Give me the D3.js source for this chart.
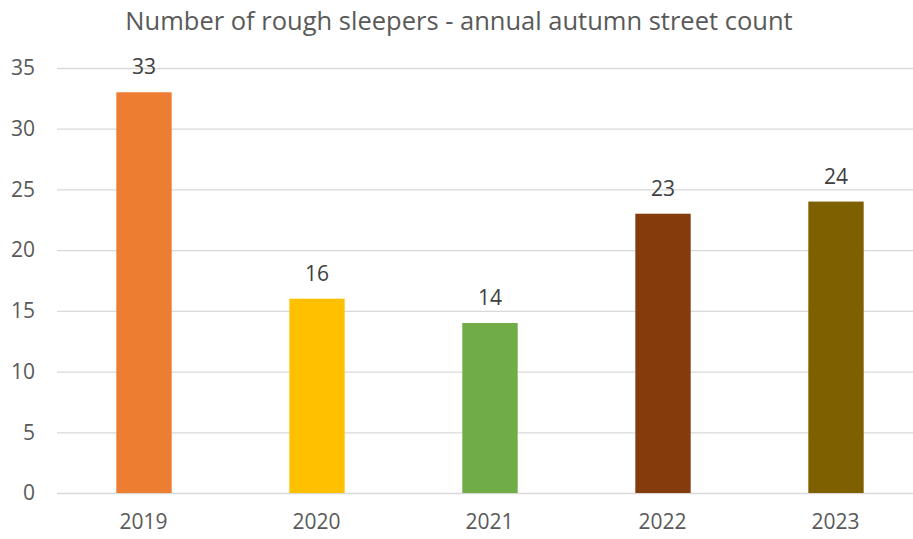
<!DOCTYPE html>
<html>
<head>
<meta charset="utf-8">
<script src="https://cdn.jsdelivr.net/npm/d3@7"></script>
<style>
  body { margin: 0; background: #fff; }
  text { font-family: "Open Sans", "Noto Sans", sans-serif; }
</style>
</head>
<body>
<script>
var years = ["2019", "2020", "2021", "2022", "2023"];
var counts = [33, 16, 14, 23, 24];
var barColors = ["#ed7d31", "#ffc000", "#70ad47", "#843c0c", "#7f6000"];
var yTicks = [0, 5, 10, 15, 20, 25, 30, 35];

var W = 913, H = 539;
var margin = { top: 68, right: -9, bottom: 46, left: 57 },
    width = W - margin.left - margin.right,
    height = H - margin.top - margin.bottom;

var svg = d3.select("body").append("svg")
    .attr("width", W)
    .attr("height", H);

svg.append("text")
    .attr("x", 459)
    .attr("y", 30)
    .attr("text-anchor", "middle")
    .style("font-size", "25.5px")
    .style("fill", "#595959")
    .text("Number of rough sleepers - annual autumn street count");

var g = svg.append("g")
    .attr("transform", "translate(" + margin.left + "," + margin.top + ")");

var x = d3.scaleBand().domain(years).range([0, width]).paddingInner(0.68).paddingOuter(0.34);
var y = d3.scaleLinear().domain([0, 35]).range([height, 0]);

// gridlines
g.append("g").selectAll("line")
    .data(yTicks)
    .enter().append("line")
    .attr("x1", 0)
    .attr("x2", width)
    .attr("y1", function (d) { return y(d) + 0.5; })
    .attr("y2", function (d) { return y(d) + 0.5; })
    .attr("stroke", "#d9d9d9")
    .attr("stroke-width", 1.3);

var yAxis = d3.axisLeft(y).tickValues(yTicks).tickSize(0).tickPadding(22);
g.append("g")
    .call(yAxis)
    .call(function (s) { s.select(".domain").remove(); })
    .selectAll("text")
    .style("font-size", "21px")
    .style("fill", "#595959")
    .style("font-family", "'Open Sans', sans-serif");

var xAxis = d3.axisBottom(x).tickSize(0).tickPadding(21);
g.append("g")
    .attr("transform", "translate(0," + height + ")")
    .call(xAxis)
    .call(function (s) { s.select(".domain").remove(); })
    .selectAll("text")
    .style("font-size", "21px")
    .style("fill", "#595959")
    .style("font-family", "'Open Sans', sans-serif");

g.append("g").selectAll("rect")
    .data(counts)
    .enter().append("rect")
    .attr("x", function (d, i) { return x(years[i]) + 0.5; })
    .attr("y", function (d) { return y(d); })
    .attr("width", x.bandwidth())
    .attr("height", function (d) { return height - y(d); })
    .style("fill", function (d, i) { return barColors[i]; });

g.append("g").selectAll("text")
    .data(counts)
    .enter().append("text")
    .attr("x", function (d, i) { return x(years[i]) + x.bandwidth() / 2 + 0.5; })
    .attr("y", function (d) { return y(d) - 18; })
    .attr("text-anchor", "middle")
    .style("font-size", "21px")
    .style("fill", "#404040")
    .text(function (d) { return d; });
</script>
</body>
</html>
